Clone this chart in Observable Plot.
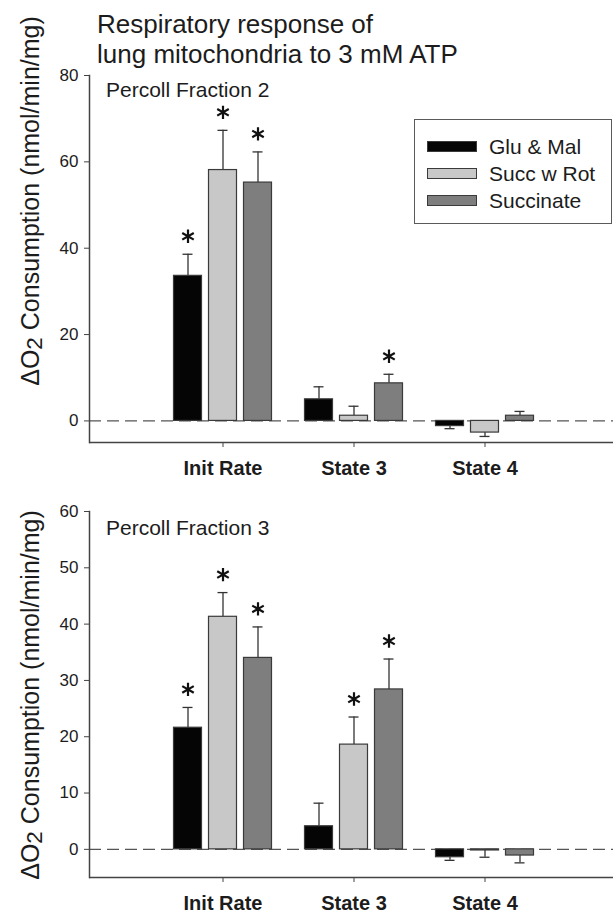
<!DOCTYPE html>
<html><head><meta charset="utf-8">
<script src="https://cdn.jsdelivr.net/npm/d3@7"></script>
<script src="https://cdn.jsdelivr.net/npm/@observablehq/plot@0.6"></script>
<style>
body{margin:0;background:#fff;}
#wrap{position:relative;width:613px;height:913px;overflow:hidden;font-family:"Liberation Sans",Arial,sans-serif;color:#1c1c1c;background:#fff;}
.abs{position:absolute;}
.title{left:97px;top:9px;font-size:26px;line-height:30px;white-space:nowrap;}
.ylab{width:420px;height:30px;line-height:30px;font-size:25px;text-align:center;white-space:nowrap;transform:rotate(-90deg);transform-origin:center center;}
.ylab sub{font-size:0.9em;vertical-align:-0.12em;}
.plabel{left:106px;font-size:21px;line-height:21px;white-space:nowrap;}
.legend{left:414px;top:119px;width:196px;height:103px;border:1.5px solid #5a5a5a;background:#fff;box-sizing:content-box;}
.legrow{position:absolute;left:12px;height:27px;display:flex;align-items:center;font-size:21px;line-height:27px;white-space:nowrap;}
.sw{width:48px;height:9px;border:1.2px solid #3a3a3a;margin-right:12px;}
</style></head><body><div id="wrap"></div>
<script>
// ---------- data ----------
const categories = ["Init Rate", "State 3", "State 4"];
const series = ["Glu & Mal", "Succ w Rot", "Succinate"];
const seriesColors = ["#050505", "#c8c8c8", "#7e7e7e"];

// Percoll Fraction 2 (means, SEM, significance)
const f2GluMal = [33.6, 5.0, -1.2];
const f2SuccRot = [58.1, 1.2, -2.7];
const f2Succinate = [55.2, 8.7, 1.2];
const f2GluMalErr = [5.0, 2.9, 0.6];
const f2SuccRotErr = [9.2, 2.2, 0.9];
const f2SuccinateErr = [7.1, 2.1, 1.0];
const f2GluMalSig = [1, 0, 0];
const f2SuccRotSig = [1, 0, 0];
const f2SuccinateSig = [1, 1, 0];
const f2Ticks = [0, 20, 40, 60, 80];

// Percoll Fraction 3
const f3GluMal = [21.6, 4.1, -1.4];
const f3SuccRot = [41.3, 18.6, -0.2];
const f3Succinate = [34.0, 28.4, -1.1];
const f3GluMalErr = [3.6, 4.1, 0.55];
const f3SuccRotErr = [4.3, 4.9, 1.2];
const f3SuccinateErr = [5.5, 5.4, 1.3];
const f3GluMalSig = [1, 0, 0];
const f3SuccRotSig = [1, 1, 0];
const f3SuccinateSig = [1, 1, 0];
const f3Ticks = [0, 10, 20, 30, 40, 50, 60];

// ---------- build rows ----------
function rowsFor(means, errs, sigs) {
  const rows = [];
  series.forEach((s, j) => {
    categories.forEach((c, i) => {
      const v = means[j][i];
      const e = errs[j][i];
      rows.push({category: c, series: s, value: v, end: v + Math.sign(v) * e, sig: sigs[j][i] === 1});
    });
  });
  return rows;
}
const rows2 = rowsFor([f2GluMal, f2SuccRot, f2Succinate], [f2GluMalErr, f2SuccRotErr, f2SuccinateErr], [f2GluMalSig, f2SuccRotSig, f2SuccinateSig]);
const rows3 = rowsFor([f3GluMal, f3SuccRot, f3Succinate], [f3GluMalErr, f3SuccRotErr, f3SuccinateErr], [f3GluMalSig, f3SuccRotSig, f3SuccinateSig]);

const offsets = [-35, 0, 35];

function panel(rows, yDomain, yTicks, height, marginTop, marginBottom) {
  const marks = [];
  marks.push(Plot.ruleY([0], {stroke: "#555", strokeWidth: 1.4, strokeDasharray: "12,6"}));
  series.forEach((s, j) => {
    const d = rows.filter(r => r.series === s);
    marks.push(Plot.ruleX(d, {x: "category", y1: "value", y2: "end", dx: offsets[j], stroke: "#333", strokeWidth: 1.3}));
    marks.push(Plot.tickY(d, {x: "category", y: "end", dx: offsets[j], insetLeft: 60.5, insetRight: 60.5, stroke: "#333", strokeWidth: 1.3}));
    marks.push(Plot.barY(d, {x: "category", y1: 0, y2: "value", dx: offsets[j], insetLeft: 51.5, insetRight: 51.5, fill: seriesColors[j], stroke: "#3a3a3a", strokeWidth: 1.2}));
    marks.push(Plot.dot(d.filter(r => r.sig), {x: "category", y: "end", dx: offsets[j], dy: -18, symbol: "asterisk", r: 6.3, stroke: "#111", strokeWidth: 2.2}));
  });
  marks.push(Plot.ruleY([yDomain[0]], {stroke: "#444", strokeWidth: 1.5}));
  marks.push(Plot.frame({anchor: "left", stroke: "#444", strokeWidth: 1.5}));
  marks.push(Plot.axisY({ticks: yTicks, tickSize: 5, tickPadding: 6, fontSize: 17, stroke: "#444", label: null}));
  marks.push(Plot.axisX({tickSize: 5, tickPadding: 13, fontSize: 20, fontWeight: "bold", stroke: "#444", label: null}));
  return Plot.plot({
    width: 613,
    height,
    marginLeft: 89,
    marginRight: 0,
    marginTop,
    marginBottom,
    style: {fontFamily: "'Liberation Sans', Arial, sans-serif", color: "#1c1c1c", background: "transparent", overflow: "visible"},
    x: {type: "band", domain: categories, range: [156.5, 549.5], padding: 0},
    y: {domain: yDomain, nice: false},
    marks
  });
}

const wrap = document.getElementById("wrap");
const p1 = panel(rows2, [-5, 80], f2Ticks, 485, 75, 43);
p1.classList.add("abs"); p1.style.left = "0px"; p1.style.top = "0px";
wrap.appendChild(p1);
const p2 = panel(rows3, [-5, 60], f3Ticks, 428, 26, 36);
p2.classList.add("abs"); p2.style.left = "0px"; p2.style.top = "485px";
wrap.appendChild(p2);

function addDiv(cls, html, style) {
  const d = document.createElement("div");
  d.className = "abs " + cls;
  d.innerHTML = html;
  Object.assign(d.style, style || {});
  wrap.appendChild(d);
  return d;
}
addDiv("title", "Respiratory response of<br>lung mitochondria to 3 mM ATP");
const yl = "ΔO<sub>2</sub> Consumption (nmol/min/mg)";
addDiv("ylab", yl, {left: (30 - 210) + "px", top: (201 - 15) + "px"});
addDiv("ylab", yl, {left: (30 - 210) + "px", top: (695 - 15) + "px"});
addDiv("plabel", "Percoll Fraction 2", {top: "79px"});
addDiv("plabel", "Percoll Fraction 3", {top: "517px"});

const legend = addDiv("legend", "");
series.forEach((s, j) => {
  const row = document.createElement("div");
  row.className = "legrow";
  row.style.top = (12.5 + 27 * j) + "px";
  const sw = document.createElement("div");
  sw.className = "sw";
  sw.style.background = seriesColors[j];
  row.appendChild(sw);
  const t = document.createElement("span");
  t.textContent = s;
  row.appendChild(t);
  legend.appendChild(row);
});
</script>
</body></html>
